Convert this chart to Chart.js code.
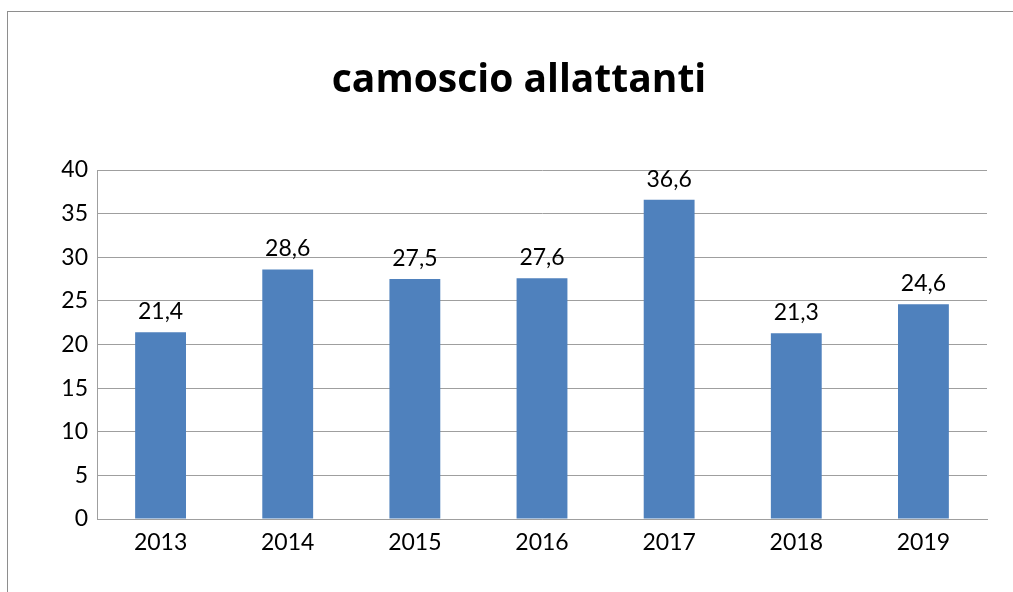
<!DOCTYPE html>
<html>
<head>
<meta charset="utf-8">
<script src="https://cdn.jsdelivr.net/npm/chart.js@4.4.0/dist/chart.umd.min.js"></script>
<style>
  html, body { margin: 0; padding: 0; background: #fff; overflow: hidden; }
  .frame { position: absolute; left: 7px; top: 11px; width: 1200px; height: 800px;
           border-left: 1px solid #8e8e8e; border-top: 1px solid #8e8e8e; }
  .wrap { position: absolute; left: 0; top: 0; width: 1013px; height: 592px; }
</style>
</head>
<body>
<div class="frame"></div>
<div class="wrap"><canvas id="c" width="1013" height="592"></canvas></div>
<script>
const years = ['2013', '2014', '2015', '2016', '2017', '2018', '2019'];
const values = [21.4, 28.6, 27.5, 27.6, 36.6, 21.3, 24.6];
const yTicks = [0, 5, 10, 15, 20, 25, 30, 35, 40];

const FONT = 'Lato, "Open Sans", sans-serif';
const TITLE_FONT = '"Open Sans", Lato, sans-serif';
const GRID = '#9f9f9f';
const TITLE_SIZE = 39;

// value labels above bars, comma decimals like the original
const barLabels = {
  id: 'barLabels',
  afterDatasetsDraw(chart) {
    const { ctx } = chart;
    const meta = chart.getDatasetMeta(0);
    ctx.save();
    ctx.font = '23px ' + FONT;
    ctx.fillStyle = '#000';
    ctx.textAlign = 'center';
    ctx.textBaseline = 'alphabetic';
    meta.data.forEach((bar, i) => {
      const txt = values[i].toFixed(1).replace('.', ',');
      ctx.fillText(txt, bar.x, bar.y - 13);
    });
    ctx.restore();
  }
};

new Chart(document.getElementById('c'), {
  type: 'bar',
  data: {
    labels: years,
    datasets: [{
      data: values,
      backgroundColor: '#4f81bd',
      borderWidth: 0,
      categoryPercentage: 0.4,
      barPercentage: 1.0,
    }]
  },
  options: {
    responsive: false,
    animation: false,
    layout: { padding: { left: 25, right: 0, top: 0, bottom: 0 } },
    plugins: {
      legend: { display: false },
      tooltip: { enabled: false },
      title: {
        display: true,
        text: 'camoscio allattanti',
        color: '#000',
        font: { family: TITLE_FONT, size: TITLE_SIZE, weight: 'bold' },
        padding: { top: 81 - TITLE_SIZE * 0.6, bottom: 170 - 81 - TITLE_SIZE * 0.6 },
      },
    },
    scales: {
      x: {
        grid: { display: false, drawTicks: false },
        border: { display: true, color: GRID, width: 1 },
        ticks: { color: '#000', font: { family: FONT, size: 23 }, padding: 10 },
        afterFit: s => { s.height = 73; },
      },
      y: {
        min: 0, max: 40,
        afterBuildTicks: s => { s.ticks = yTicks.map(v => ({ value: v })); },
        grid: { color: GRID, lineWidth: 1, drawTicks: false },
        border: { display: true, color: GRID, width: 1 },
        ticks: { color: '#000', font: { family: FONT, size: 23 }, padding: 9 },
        afterFit: s => { s.width = 72; },
      },
      y2: {
        position: 'right',
        display: true,
        grid: { display: false, drawTicks: false },
        border: { display: false },
        ticks: { display: false },
        afterFit: s => { s.width = 26; },
      },
    },
  },
  plugins: [barLabels],
});
</script>
</body>
</html>
